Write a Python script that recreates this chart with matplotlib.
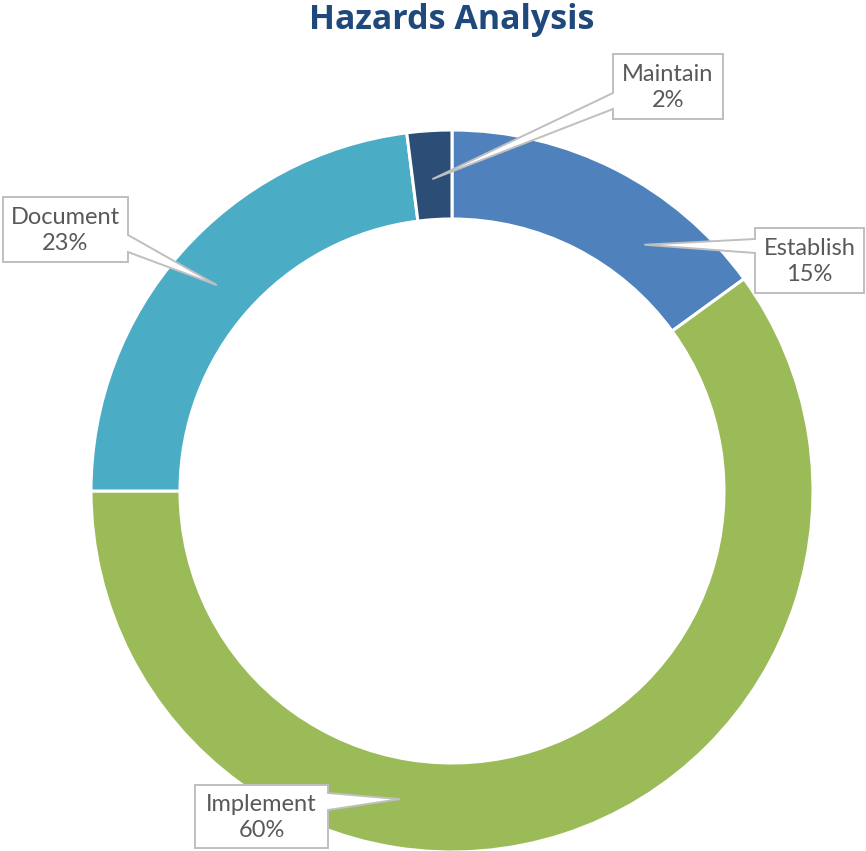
import numpy as np
import matplotlib.pyplot as plt
from matplotlib.patches import Polygon

# data
labels = ["Establish", "Implement", "Document", "Maintain"]
shares = [15, 60, 23, 2]
colors = ["#4F81BD", "#9BBB59", "#4BACC6", "#2C4D75"]

W, H = 866, 851
cx, cy = 452, 491          # donut centre (image px)
r_out, r_in = 361, 272

# callout layout: box (x0, y0, x1, y1), side the leader leaves from, leader base ys, anchor angle
callouts = {
    "Maintain":  ((613, 54, 723, 119), "left", (93, 109), 93.6),
    "Establish": ((755, 228, 864, 293), "left", (239, 253), 52.0),
    "Document":  ((3, 197, 128, 262), "right", (235, 252), 138.8),
    "Implement": ((195, 785, 328, 848), "right", (793, 810), -99.6),
}
anchor_r = 0.5 * (r_out + r_in) - 4

fig = plt.figure(figsize=(W / 100, H / 100), dpi=100)
fig.patch.set_facecolor("white")

ax = fig.add_axes([0, 0, 1, 1])
ax.pie(shares, colors=colors, startangle=90, counterclock=False,
       center=(cx, H - cy), radius=r_out, frame=True,
       wedgeprops=dict(width=r_out - r_in, edgecolor="white", linewidth=2.2))
ax.set_xlim(0, W)
ax.set_ylim(0, H)
ax.set_aspect("equal")
ax.axis("off")

# overlay in image pixel coords
ov = fig.add_axes([0, 0, 1, 1])
ov.set_xlim(0, W)
ov.set_ylim(H, 0)
ov.axis("off")
ov.patch.set_alpha(0)

for name, pct in zip(labels, shares):
    (x0, y0, x1, y1), side, (b1, b2), ang = callouts[name]
    ax_ = cx + anchor_r * np.cos(np.radians(ang))
    ay_ = cy - anchor_r * np.sin(np.radians(ang))
    if side == "left":
        pts = [(x0, y0), (x1, y0), (x1, y1), (x0, y1), (x0, b2), (ax_, ay_), (x0, b1)]
    else:
        pts = [(x0, y0), (x1, y0), (x1, b1), (ax_, ay_), (x1, b2), (x1, y1), (x0, y1)]
    ov.add_patch(Polygon(pts, closed=True, facecolor="white", edgecolor="#BFBFBF",
                         linewidth=1.4, joinstyle="miter"))
    ov.text((x0 + x1) / 2, (y0 + y1) / 2 + 1, f"{name}\n{pct}%", ha="center", va="center",
            fontsize=17, color="#595959", family="Lato", linespacing=1.3)

fig.text(452 / W, 1 - 20 / H, "Hazards Analysis", ha="center", va="center",
         fontsize=24.5, fontweight="bold", color="#1F497D", family="Open Sans")

fig.savefig("out.png", dpi=100)
